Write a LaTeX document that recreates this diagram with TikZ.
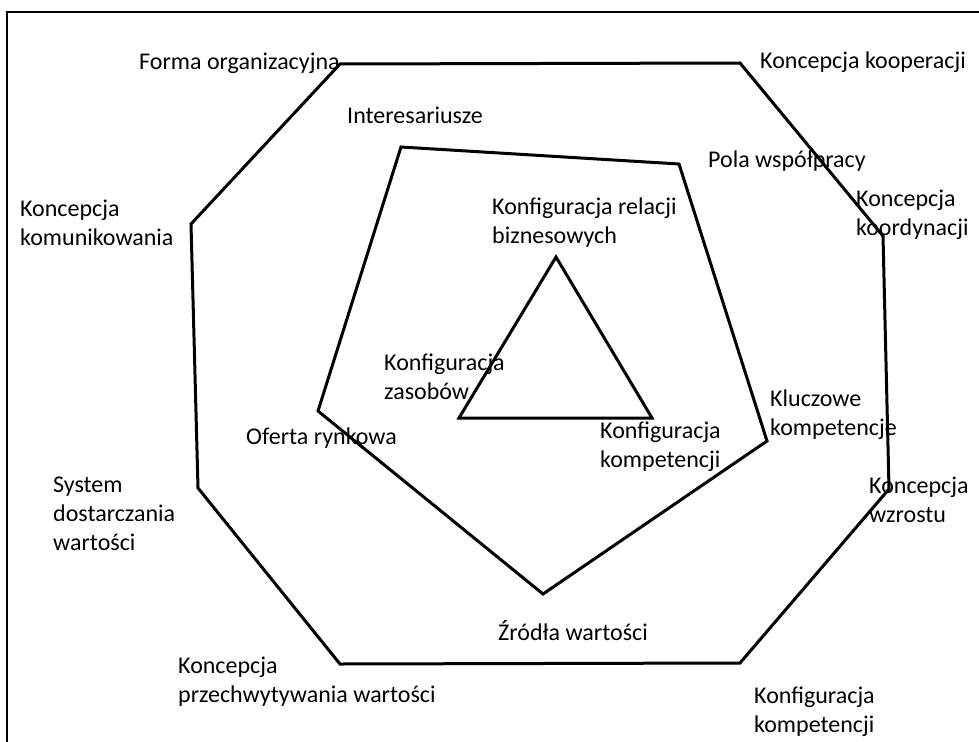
\documentclass[tikz,border=0pt]{standalone}
\usepackage{fontspec}
\setmainfont{Carlito}
\begin{document}
\begin{tikzpicture}[x=1pt,y=-1pt,
  lbl/.style={anchor=west,align=left,inner sep=0pt,font=\fontsize{24}{29}\selectfont},
  shape line/.style={line width=3pt,line join=miter},
  frame line/.style={line width=2pt}]
\useasboundingbox (0,0) rectangle (979,741);
\clip (0,0) rectangle (979,741);
\fill[white] (0,0) rectangle (979,741);
\draw[frame line] (7,12) rectangle (1000,760);
% octagon
\coordinate (o1) at (340,64);
\coordinate (o2) at (740,63);
\coordinate (o3) at (883,236);
\coordinate (o4) at (889,489);
\coordinate (o5) at (740,663);
\coordinate (o6) at (340,664);
\coordinate (o7) at (198,488);
\coordinate (o8) at (191,224);
\draw[shape line] (o1) -- (o2) -- (o3) -- (o4) -- (o5) -- (o6) -- (o7) -- (o8) -- cycle;
% pentagon
\coordinate (p1) at (401,147);
\coordinate (p2) at (679,164);
\coordinate (p3) at (767,441);
\coordinate (p4) at (543,594);
\coordinate (p5) at (318,411);
\draw[shape line] (p1) -- (p2) -- (p3) -- (p4) -- (p5) -- cycle;
% triangle
\coordinate (t1) at (556,257);
\coordinate (t2) at (652,418);
\coordinate (t3) at (459,418);
\draw[shape line] (t1) -- (t2) -- (t3) -- cycle;
% labels
\node[lbl] (forma) at (139,63) {Forma organizacyjna};
\node[lbl] (kooper) at (760,62) {Koncepcja kooperacji};
\node[lbl] (inter) at (347,115) {Interesariusze};
\node[lbl] (pola) at (708,161) {Pola współpracy};
\node[lbl] (koord) at (856,214.5) {Koncepcja\\koordynacji};
\node[lbl] (komun) at (20,222.5) {Koncepcja\\komunikowania};
\node[lbl] (relacji) at (492,222.5) {Konfiguracja relacji\\biznesowych};
\node[lbl] (zasob) at (384,376.5) {Konfiguracja\\zasobów};
\node[lbl] (klucz) at (770,414.5) {Kluczowe\\kompetencje};
\node[lbl] (oferta) at (246,438) {Oferta rynkowa};
\node[lbl] (kompin) at (600,446.5) {Konfiguracja\\kompetencji};
\node[lbl] (system) at (53,514) {System\\dostarczania\\wartości};
\node[lbl] (wzrost) at (869,499.5) {Koncepcja\\wzrostu};
\node[lbl] (zrodla) at (498,631) {Źródła wartości};
\node[lbl] (przech) at (178,681.5) {Koncepcja\\przechwytywania wartości};
\node[lbl] (kompout) at (754,711.5) {Konfiguracja\\kompetencji};
\end{tikzpicture}
\end{document}
